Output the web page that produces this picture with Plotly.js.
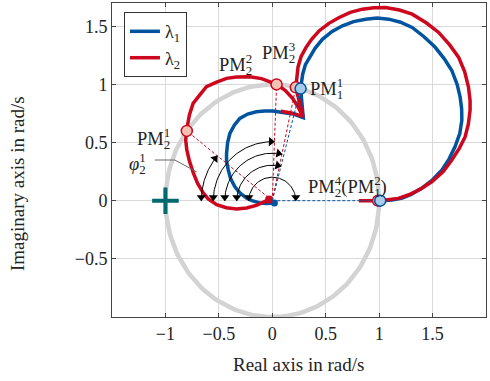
<!DOCTYPE html>
<html><head><meta charset="utf-8">
<script src="https://cdn.plot.ly/plotly-3.0.1.min.js"></script>
<style>html,body{margin:0;padding:0;background:#fff}</style>
</head><body><div id="chart" style="width:490px;height:381px"></div>
<script>
// ---- data ----
const lam1X = [0.02,-0.05,-0.118,-0.19,-0.242,-0.30,-0.35,-0.39,-0.412,-0.428,-0.428,-0.418,-0.397,-0.355,-0.304,-0.23,-0.149,-0.07,0.006,0.07,0.13,0.2,0.26,0.29,0.265,0.275,0.285,0.31,0.347,0.40,0.471,0.56,0.657,0.76,0.874,0.98,1.09,1.2,1.309,1.42,1.525,1.61,1.68,1.73,1.758,1.772,1.774,1.755,1.71,1.655,1.588,1.5,1.4,1.3,1.216,1.12,1.03];
const lam1Y = [-0.02,-0.025,-0.02,0.0,0.023,0.065,0.12,0.19,0.265,0.34,0.407,0.5,0.578,0.65,0.707,0.745,0.764,0.772,0.772,0.767,0.755,0.745,0.73,0.715,0.964,1.02,1.09,1.17,1.234,1.31,1.39,1.455,1.504,1.54,1.561,1.57,1.561,1.535,1.49,1.41,1.319,1.22,1.12,1.0,0.892,0.79,0.692,0.58,0.464,0.36,0.265,0.18,0.108,0.055,0.023,0.006,0.0];
const lam2X = [-0.03,-0.08,-0.15,-0.24,-0.335,-0.43,-0.52,-0.6,-0.645,-0.70,-0.738,-0.775,-0.8,-0.81,-0.803,-0.775,-0.741,-0.678,-0.616,-0.521,-0.428,-0.335,-0.21,-0.1,0.04,0.12,0.19,0.245,0.288,0.22,0.241,0.27,0.316,0.37,0.44,0.53,0.626,0.73,0.843,0.95,1.06,1.19,1.309,1.44,1.557,1.66,1.743,1.8,1.836,1.851,1.851,1.835,1.805,1.75,1.68,1.6,1.495,1.39,1.278,1.18,1.09,1.0,0.81];
const lam2Y = [0.01,-0.01,-0.04,-0.063,-0.071,-0.06,-0.034,0.015,0.066,0.15,0.236,0.34,0.436,0.52,0.6,0.74,0.837,0.91,0.98,1.02,1.052,1.063,1.066,1.05,1.0,0.95,0.88,0.80,0.722,0.975,1.15,1.24,1.319,1.39,1.462,1.525,1.575,1.62,1.647,1.66,1.661,1.64,1.604,1.53,1.447,1.34,1.234,1.11,0.977,0.86,0.778,0.66,0.55,0.45,0.35,0.25,0.165,0.1,0.051,0.02,0.009,0.0,0.0];
const lam2bX = [0.08,0.18,0.288];
const lam2bY = [0.77,0.755,0.725];

// phase-margin points
const pm2X = [-0.80, 0.04, 0.22, 0.99];
const pm2Y = [0.60, 1.00, 0.975, 0.0];
const pm1X = [0.265, 1.01];
const pm1Y = [0.964, 0.0];
const critX = [-1];
const critY = [0];

// phase-margin arcs: radius (px) and the PM point each one ends at
const arcRadiusPx = [71, 59, 47.5, 35.5, 23.5];
const arcTargetX = [pm2X[0], pm2X[1], pm2X[2], pm1X[0], pm2X[3]];
const arcTargetY = [pm2Y[0], pm2Y[1], pm2Y[2], pm1Y[0], pm2Y[3]];

const leaderX = [-1.099, -0.912, -0.706];
const leaderY = [0.35, 0.35, 0.247];

const xRange = [-1.5, 2];
const yRange = [-1, 1.7];
const W = 490, H = 381;
const M = {l:112, r:4, t:3, b:64};

// ---- styles ----
const BLUE = '#00549F', RED = '#CC071E', LBLUE = '#A9CBEA', LRED = '#F3C2B3';
const GREEN = '#006A6E', GRAY = '#D3D3D3';
const FONT = '"Liberation Serif", "Times New Roman", serif';

const kx = (W - M.l - M.r) / (xRange[1] - xRange[0]);
const ky = (H - M.t - M.b) / (yRange[1] - yRange[0]);

const traces = [];

// unit circle
const cX = [], cY = [];
for (let i = 0; i <= 200; i++) { const t = 2*Math.PI*i/200; cX.push(Math.cos(t)); cY.push(Math.sin(t)); }
traces.push({x:cX, y:cY, mode:'lines', line:{color:GRAY, width:4.5}, showlegend:false, hoverinfo:'skip'});

// curves
traces.push({x:lam1X, y:lam1Y, mode:'lines', name:'λ<sub>1</sub>', line:{color:BLUE, width:3.5}});
traces.push({x:lam2X, y:lam2Y, mode:'lines', name:'λ<sub>2</sub>', line:{color:RED, width:3.5}});
traces.push({x:lam2bX, y:lam2bY, mode:'lines', line:{color:RED, width:3.5}, showlegend:false});
// start dots
traces.push({x:[lam1X[0]], y:[lam1Y[0]], mode:'markers', marker:{color:BLUE, size:7}, showlegend:false});
traces.push({x:[lam2X[0]], y:[lam2Y[0]], mode:'markers', marker:{color:RED, size:8}, showlegend:false});

// dashed radial lines
for (let i = 0; i < 3; i++) {
  traces.push({x:[0, pm2X[i]], y:[0, pm2Y[i]], mode:'lines', line:{color:RED, width:1, dash:'3px,2px'}, showlegend:false});
}
for (let i = 0; i < pm1X.length; i++) {
  traces.push({x:[0, pm1X[i]], y:[0, pm1Y[i]], mode:'lines', line:{color:BLUE, width:1, dash:'3px,2px'}, showlegend:false});
}

// arcs with arrowheads (circular in screen space)
const ahX = [], ahY = [], ahA = [];
for (let k = 0; k < arcRadiusPx.length; k++) {
  const r = arcRadiusPx[k];
  const endA = Math.atan2(arcTargetY[k]*ky, arcTargetX[k]*kx);
  const ax = [], ay = [];
  const n = 60;
  for (let i = 0; i <= n; i++) {
    const a = Math.PI + (endA - Math.PI) * i / n;
    ax.push(r*Math.cos(a)/kx); ay.push(r*Math.sin(a)/ky);
  }
  traces.push({x:ax, y:ay, mode:'lines', line:{color:'#000', width:1}, showlegend:false});
  const ends = [{a:Math.PI, tx:-Math.sin(Math.PI), ty:Math.cos(Math.PI)},
                {a:endA, tx:Math.sin(endA), ty:-Math.cos(endA)}];
  ends.forEach(e => {
    const tipX = r*Math.cos(e.a), tipY = r*Math.sin(e.a);
    const back = 3.5;
    const cxp = tipX - back*e.tx, cyp = tipY - back*e.ty;
    ahX.push(cxp/kx); ahY.push(cyp/ky);
    ahA.push(Math.atan2(e.tx, e.ty) * 180/Math.PI);
  });
}
traces.push({x:ahX, y:ahY, mode:'markers', marker:{symbol:'triangle-up', size:8, color:'#000', angle:ahA, line:{width:0}}, showlegend:false});

// leader line for phi label
traces.push({x:leaderX, y:leaderY, mode:'lines', line:{color:'#666', width:1}, showlegend:false});

// critical point
traces.push({x:critX, y:critY, mode:'markers', marker:{symbol:'cross-thin', size:19, line:{width:4, color:GREEN}}, showlegend:false});

// PM markers
traces.push({x:pm2X, y:pm2Y, mode:'markers', marker:{size:11, color:LRED, line:{color:RED, width:1.5}}, showlegend:false});
traces.push({x:pm1X, y:pm1Y, mode:'markers', marker:{size:11, color:LBLUE, line:{color:BLUE, width:1.5}}, showlegend:false});

function pm(sub, sup) {
  return 'PM<sub><span style="letter-spacing:-0.5em">' + sub + '</span></sub><sup>' + sup + '</sup>';
}
const tf = {family:FONT, size:18.5, color:'#222'};
const annotations = [
  {x:-0.94, y:0.548, xanchor:'right', yanchor:'middle', text:pm(2,1), showarrow:false, font:tf},
  {x:-0.346, y:1.188, xanchor:'center', yanchor:'middle', text:pm(2,2), showarrow:false, font:tf},
  {x:0.061, y:1.287, xanchor:'center', yanchor:'middle', text:pm(2,3), showarrow:false, font:tf},
  {x:0.332, y:0.982, xanchor:'left', yanchor:'middle', text:pm(1,1), showarrow:false, font:tf},
  {x:0.70, y:0.135, xanchor:'center', yanchor:'middle', text:pm(2,4) + '(' + pm(1,2) + ')', showarrow:false, font:tf},
  {x:-1.263, y:0.337, xanchor:'center', yanchor:'middle', text:'<i>φ</i><sub><span style="letter-spacing:-0.5em">2</span></sub><sup>1</sup>', showarrow:false, font:tf},
  {xref:'paper', yref:'paper', x:(298.5-M.l)/(W-M.l-M.r), y:1-(364-M.t)/(H-M.t-M.b), xanchor:'center', yanchor:'middle', text:'Real axis in rad/s', showarrow:false, font:{family:FONT, size:19, color:'#222'}},
  {xref:'paper', yref:'paper', x:(17-M.l)/(W-M.l-M.r), y:1-(184-M.t)/(H-M.t-M.b), xanchor:'center', yanchor:'middle', textangle:-90, text:'Imaginary axis in rad/s', showarrow:false, font:{family:FONT, size:19, color:'#222'}}
];

const axisCommon = {showgrid:true, gridcolor:'#D9D9D9', gridwidth:1, zeroline:false, showline:true, mirror:'ticks', linecolor:'#444', linewidth:1, ticks:'inside', ticklen:4, tickcolor:'#444', tickfont:{family:FONT, size:18, color:'#222'}, fixedrange:true};

const layout = {
  width:W, height:H, margin:M, paper_bgcolor:'#fff', plot_bgcolor:'#fff',
  xaxis:Object.assign({}, axisCommon, {range:xRange, tickvals:[-1,-0.5,0,0.5,1,1.5,2]}),
  yaxis:Object.assign({}, axisCommon, {range:yRange, tickvals:[-0.5,0,0.5,1,1.5]}),
  showlegend:true,
  legend:{x:0.032, y:0.971, xanchor:'left', yanchor:'top', bgcolor:'#fff', bordercolor:'#333', borderwidth:1, font:{family:FONT, size:18, color:'#222'}, itemwidth:30, tracegroupgap:0},
  annotations:annotations
};

Plotly.newPlot('chart', traces, layout, {staticPlot:true, displayModeBar:false});
</script></body></html>
